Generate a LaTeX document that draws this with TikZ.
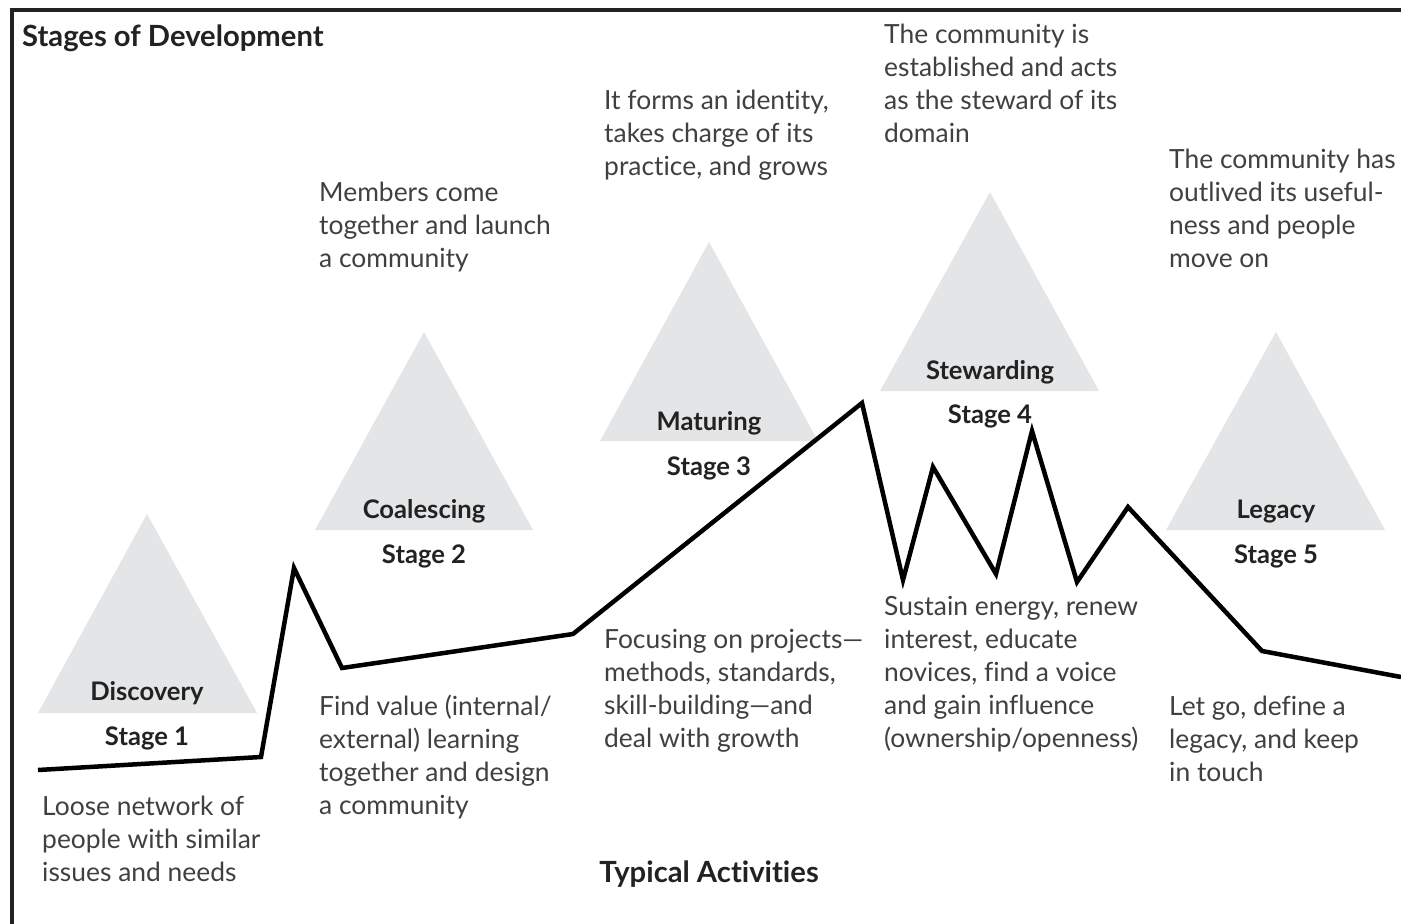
\documentclass[tikz,border=0pt]{standalone}
\usepackage{fontspec}
\setmainfont{Lato}[Ligatures=NoCommon]
\begin{document}
\begin{tikzpicture}[x=1pt,y=-1pt,
  peak/.style={fill=peakgray},
  body/.style={anchor=base west, inner sep=0pt, align=left, text=bodygray,
    font=\fontsize{26.4}{33}\selectfont},
  stagename/.style={anchor=base, inner sep=0pt, text=headgray,
    font=\fontsize{25.6}{30}\selectfont\bfseries},
  heading/.style={inner sep=0pt, text=headgray,
    font=\fontsize{29.2}{34}\selectfont\bfseries},
  curve/.style={line width=4.5pt, line join=miter, black}]
\definecolor{peakgray}{HTML}{E4E5E6}
\definecolor{bodygray}{HTML}{404040}
\definecolor{headgray}{HTML}{222222}
\useasboundingbox (0,0) rectangle (1401,924);
\fill[white] (0,0) rectangle (1401,924);

% frame (top and left edges)
\draw[line width=4pt, headgray] (12,924) -- (12,10) -- (1401,10);

% stage triangles
\fill[peak] (38,713)  -- (147,514)  -- (257,713)  -- cycle;
\fill[peak] (315,530) -- (424,332)  -- (533,530)  -- cycle;
\fill[peak] (600,441) -- (709,242)  -- (818,441)  -- cycle;
\fill[peak] (880,391) -- (990,192)  -- (1099,391) -- cycle;
\fill[peak] (1166,530) -- (1276,332) -- (1385,530) -- cycle;

% stage names and numbers
\node[stagename] (n1) at (147,700) {Discovery};
\node[stagename] (s1) at (147,745) {Stage 1};
\node[stagename] (n2) at (424,518) {Coalescing};
\node[stagename] (s2) at (424,563) {Stage 2};
\node[stagename] (n3) at (709,430) {Maturing};
\node[stagename] (s3) at (709,475) {Stage 3};
\node[stagename] (n4) at (990,379) {Stewarding};
\node[stagename] (s4) at (990,423) {Stage 4};
\node[stagename] (n5) at (1276,518) {Legacy};
\node[stagename] (s5) at (1276,563) {Stage 5};

% energy curve
\draw[curve] (38,770) -- (261,757) -- (294,568) -- (342,668) -- (573,634)
  -- (862,403) -- (903,580) -- (933,467) -- (996,574) -- (1032,431)
  -- (1077,582) -- (1128,507) -- (1262,651) -- (1401,677);

% headings
\node[heading, anchor=base west] (title) at (22,46) {Stages of Development};
\node[heading, anchor=base] (acts) at (709,882) {Typical Activities};

% stage descriptions (anchored at the baseline of the last line)
\node[body] (d2) at (319,267) {Members come\\together and launch\\a community};
\node[body] (d3) at (604,175) {It forms an identity,\\takes charge of its\\practice, and grows};
\node[body] (d4) at (884,142) {The community is\\established and acts\\as the steward of its\\domain};
\node[body] (d5) at (1169,267) {The community has\\outlived its useful-\\ness and people\\move on};

% typical activities
\node[body] (a1) at (42,881) {Loose network of\\people with similar\\issues and needs};
\node[body] (a2) at (319,814) {Find value (internal/\\external) learning\\together and design\\a community};
\node[body] (a3) at (604,747) {Focusing on projects—\\methods, standards,\\skill-building—and\\deal with growth};
\node[body] (a4) at (884,747) {Sustain energy, renew\\interest, educate\\novices, find a voice\\and gain influence\\(ownership/openness)};
\node[body] (a5) at (1169,781) {Let go, define a\\legacy, and keep\\in touch};
\end{tikzpicture}
\end{document}
